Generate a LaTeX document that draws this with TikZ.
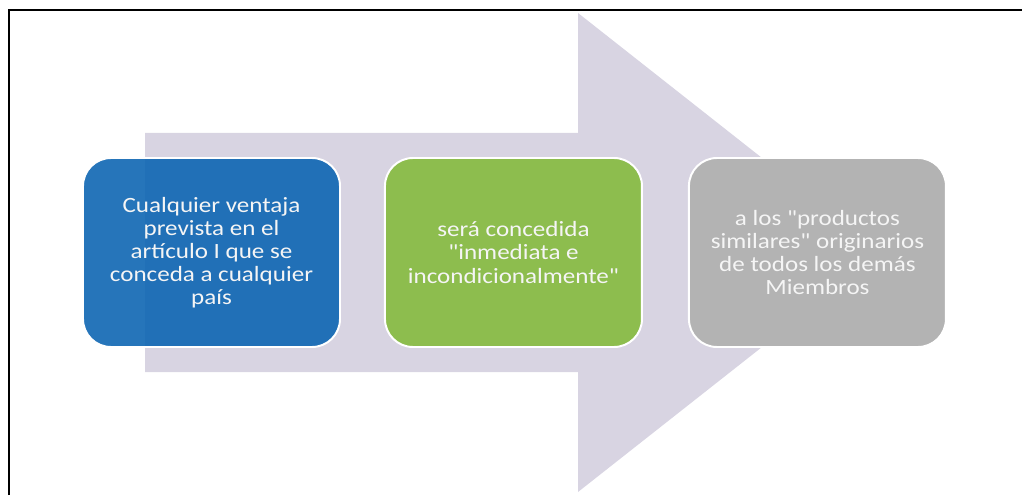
\documentclass[tikz,border=0pt]{standalone}
\usepackage{fontspec}
\setmainfont{Carlito}[FakeStretch=1.15, Ligatures=TeXOff]
\usetikzlibrary{positioning}

\definecolor{arrowcol}{HTML}{D8D4E2}
\definecolor{blueA}{HTML}{0E66B3}
\definecolor{greenA}{HTML}{8DBD4E}
\definecolor{grayA}{HTML}{B3B3B3}

\tikzset{
	box/.style={draw=white, line width=1.4pt, rounded corners=0.7cm,
		minimum width=6.425cm, minimum height=4.725cm, align=center, text=white!96!black,
		font=\fontsize{15.5}{16.4}\selectfont}
}

\begin{document}
\begin{tikzpicture}
		\useasboundingbox (0,0) rectangle (25.55,12.375);
		\draw [line width=1.8pt](0.225,0)--(0.225,12.125)--(25.55,12.125);

		\fill [arrowcol](3.625,3.075)--++(0,5.975)--++(10.825,0)--++(0,3)--(22.05,6.0625)--(14.45,0.075)--++(0,3)--cycle;

		\node [box, fill=blueA, fill opacity=0.9, text opacity=1] (ventaja) at (5.2875,6.0625) {Cualquier ventaja\\prevista en el\\artículo I que se\\conceda a cualquier\\país};
		\node [box, fill=greenA, right=1.075cm of ventaja] (concedida) {será concedida\\"inmediata e\\incondicionalmente"};
		\node [box, fill=grayA, right=1.125cm of concedida] (similares) {a los "productos\\similares" originarios\\de todos los demás\\Miembros};
	\end{tikzpicture}
\end{document}
